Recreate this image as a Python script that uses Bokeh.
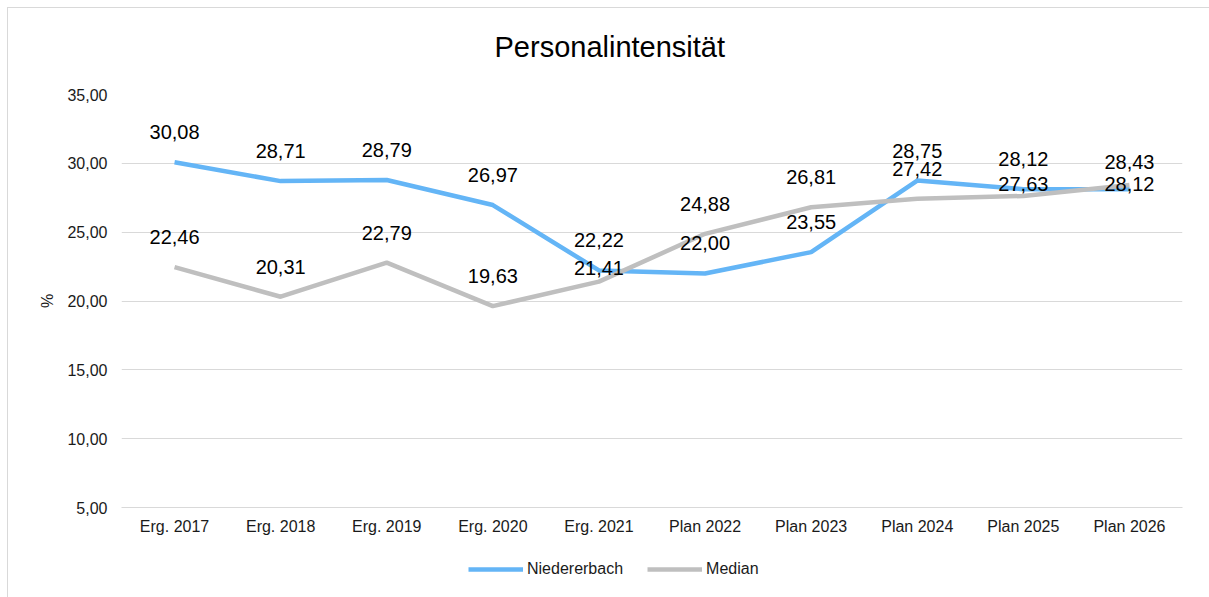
from bokeh.plotting import figure
from bokeh.layouts import column
from bokeh.models import (ColumnDataSource, FactorRange, Range1d, FixedTicker,
                          CustomJSTickFormatter, Legend, LegendItem)
from bokeh.core.properties import value
from bokeh.embed import file_html
from bokeh.resources import INLINE

categories = ["Erg. 2017", "Erg. 2018", "Erg. 2019", "Erg. 2020", "Erg. 2021",
              "Plan 2022", "Plan 2023", "Plan 2024", "Plan 2025", "Plan 2026"]
niedererbach = [30.08, 28.71, 28.79, 26.97, 22.22, 22.00, 23.55, 28.75, 28.12, 28.12]
median = [22.46, 20.31, 22.79, 19.63, 21.41, 24.88, 26.81, 27.42, 27.63, 28.43]
y_ticks = [5, 10, 15, 20, 25, 30, 35]

# label offsets above points (pixels) - style only
nied_label_off = [30, 30, 30, 30, 30, 30, 30, 30, 30, 5]
med_label_off = [30, 30, 30, 30, 14, 30, 30, 30, 12, 23]

FONT = "Liberation Sans"
BLUE = "#64B5F6"
GRAY = "#BFBFBF"
GRID = "#D9D9D9"
TXT = "#1a1a1a"

def fmt(v):
    return f"{v:.2f}".replace(".", ",")

src_n = ColumnDataSource(dict(x=categories, y=niedererbach,
                              t=[fmt(v) for v in niedererbach],
                              off=[-o for o in nied_label_off]))
src_m = ColumnDataSource(dict(x=categories, y=median,
                              t=[fmt(v) for v in median],
                              off=[-o for o in med_label_off]))

W = 1201
BL, BR = 113, 27

# title strip
t = figure(width=W, height=78, output_backend="svg", toolbar_location=None,
           min_border_left=BL, min_border_right=BR, min_border_top=0, min_border_bottom=0,
           x_axis_type=None, y_axis_type=None, x_range=Range1d(0, 1), y_range=Range1d(0, 1))
t.outline_line_color = None
t.grid.visible = False
t.title.text = "Personalintensität"
t.title.align = "left"
t.title.offset = 373
t.title.standoff = 41
t.title.text_font = FONT
t.title.text_font_size = "29px"
t.title.text_font_style = "normal"
t.title.text_color = "#000000"

p = figure(width=W, height=459, x_range=FactorRange(factors=categories, range_padding=0),
           y_range=Range1d(5, 35), output_backend="svg", toolbar_location=None,
           min_border_left=BL, min_border_right=BR, min_border_top=8, min_border_bottom=38)

p.outline_line_color = None
p.xgrid.grid_line_color = None
p.ygrid.grid_line_color = GRID
p.ygrid.grid_line_width = 1

p.yaxis.ticker = FixedTicker(ticks=y_ticks)
p.yaxis.formatter = CustomJSTickFormatter(code="return tick.toFixed(2).replace('.', ',');")
p.yaxis.axis_line_color = None
p.yaxis.major_tick_line_color = None
p.yaxis.minor_tick_line_color = None
p.yaxis.major_tick_out = 0
p.yaxis.major_tick_in = 0
p.yaxis.minor_tick_out = 0
p.yaxis.major_label_standoff = 14
p.yaxis.major_label_text_font = FONT
p.yaxis.major_label_text_font_size = "16px"
p.yaxis.major_label_text_color = TXT
p.yaxis.axis_label = "%"
p.yaxis.axis_label_text_font = FONT
p.yaxis.axis_label_text_font_size = "16px"
p.yaxis.axis_label_text_font_style = "normal"
p.yaxis.axis_label_text_color = TXT
p.yaxis.axis_label_standoff = 8

p.xaxis.axis_line_color = GRID
p.xaxis.major_tick_line_color = None
p.xaxis.minor_tick_line_color = None
p.xaxis.major_tick_out = 0
p.xaxis.major_tick_in = 0
p.xaxis.minor_tick_out = 0
p.xaxis.major_label_standoff = 10
p.xaxis.major_label_text_font = FONT
p.xaxis.major_label_text_font_size = "16px"
p.xaxis.major_label_text_color = TXT

r_n = p.line("x", "y", source=src_n, line_color=BLUE, line_width=4.5)
r_m = p.line("x", "y", source=src_m, line_color=GRAY, line_width=4.5)

for s in (src_n, src_m):
    p.text("x", "y", text="t", source=s, y_offset="off", text_align="center",
           text_baseline="middle", text_font=value(FONT), text_font_size="20px",
           text_color="#000000")

# legend strip below the chart (series lines drawn off-range, only the legend shows)
q = figure(width=W, height=52, output_backend="svg", toolbar_location=None,
           min_border_left=BL, min_border_right=BR, min_border_top=0, min_border_bottom=0,
           x_axis_type=None, y_axis_type=None,
           x_range=FactorRange(factors=categories, range_padding=0), y_range=Range1d(100, 101))
q.outline_line_color = None
q.grid.visible = False
ln = q.line("x", "y", source=src_n, line_color=BLUE, line_width=4.5)
lm = q.line("x", "y", source=src_m, line_color=GRAY, line_width=4.5)
legend = Legend(items=[LegendItem(label="Niedererbach", renderers=[ln]),
                       LegendItem(label="Median", renderers=[lm])],
                orientation="horizontal", location=(347, 19),
                label_text_font=FONT, label_text_font_size="16px", label_text_color=TXT,
                glyph_width=55, glyph_height=16, label_height=16, label_standoff=4, spacing=24,
                padding=0, margin=0, border_line_color=None, background_fill_alpha=0)
q.add_layout(legend, "center")

lay = column(t, p, q, spacing=0)
lay.styles = {"margin-left": "7px", "margin-top": "7px",
              "border-left": "1px solid #D9D9D9", "border-top": "1px solid #D9D9D9"}

open("out.html", "w").write(file_html(lay, INLINE))
